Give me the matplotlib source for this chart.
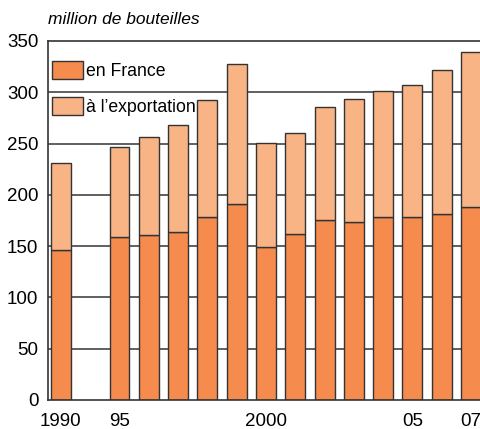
import matplotlib.pyplot as plt
import numpy as np

# Data (million bottles)
years = ["1990", "95", "96", "97", "98", "99", "2000", "01", "02", "03", "04", "05", "06", "07"]
pos = [0, 2, 3, 4, 5, 6, 7, 8, 9, 10, 11, 12, 13, 14]
france = [146, 159, 161, 164, 178, 191, 149, 162, 175, 174, 178, 178, 181, 188]
total = [231, 247, 256, 268, 292, 328, 251, 260, 286, 293, 301, 307, 322, 339]
export = [t - f for t, f in zip(total, france)]

tick_pos = [0, 2, 7, 12, 14]
tick_labels = ["1990", "95", "2000", "05", "07"]
yticks = [0, 50, 100, 150, 200, 250, 300, 350]

c_france = "#F58B4C"
c_export = "#F9B485"
edge = "#333333"

plt.rcParams['font.family'] = ['Liberation Sans', 'DejaVu Sans']

fig = plt.figure(figsize=(4.81, 4.29), dpi=100)
ax = fig.add_axes([48 / 481, 29 / 429, 1 - 48 / 481, 359 / 429])

# gridlines behind bars
for y in yticks[1:-1]:
    ax.axhline(y, color="#444444", lw=1.2, zorder=0)

ax.bar(pos, france, width=0.68, color=c_france, edgecolor=edge, lw=1, zorder=2, label="en France")
ax.bar(pos, export, bottom=france, width=0.68, color=c_export, edgecolor=edge, lw=1, zorder=2,
       label="à l\u2019exportation")

ax.set_xlim(-0.44, 14.34)
ax.set_ylim(0, 350)
ax.set_yticks(yticks)
ax.set_yticklabels([str(v) for v in yticks], fontsize=13.5)
ax.set_xticks(tick_pos)
ax.set_xticklabels(tick_labels, fontsize=13.5)
ax.tick_params(length=0, axis='y', pad=7)
ax.tick_params(length=0, axis='x', pad=9)

ax.spines['right'].set_visible(False)
for s in ['left', 'top', 'bottom']:
    ax.spines[s].set_color("#333333")
    ax.spines[s].set_linewidth(1.2)

leg = ax.legend(loc="upper left", frameon=False, fontsize=12.7, handlelength=1.76,
                handleheight=1.19, handletextpad=0.2, labelspacing=0.98,
                borderaxespad=0.0, bbox_to_anchor=(-0.008, 0.965))

fig.text(48 / 481, 1 - 19 / 429, "million de bouteilles", style="italic", fontsize=12.5,
         va="center", ha="left")

fig.savefig("out.png", dpi=100)
